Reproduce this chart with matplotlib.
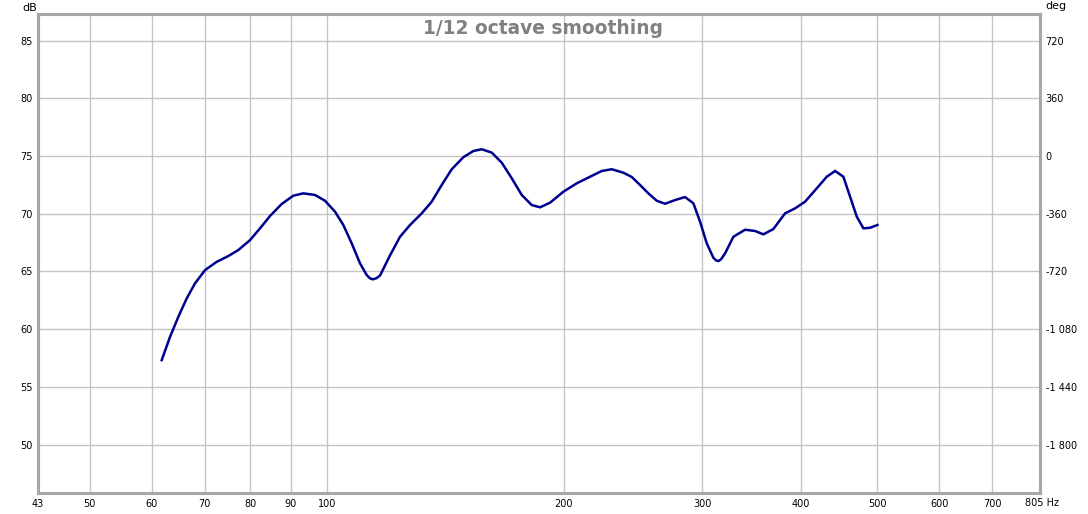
#!/usr/bin/env python3
"""
Smoothed SPL response, REW style chart
"""
import matplotlib
matplotlib.use("Agg")
import matplotlib.pyplot as plt
from matplotlib.ticker import FixedLocator, NullLocator

# Frequency response (Hz, dB)
freq = [61.74, 63.26, 64.81, 66.42, 68.05, 70.07, 72.51, 75.01, 77.24, 79.93,
        82.30, 84.74, 87.69, 90.71, 93.40, 96.66, 99.52, 102.48, 104.99, 107.60,
        110.25, 112.43, 113.5, 114.42, 115.6, 116.89, 120.36, 123.93, 127.61, 132.05,
        135.96, 140.0, 144.15, 149.12, 153.55, 157.37, 162.04, 166.84, 171.79, 176.89,
        182.14, 186.62, 192.15, 199.77, 207.76, 216.0, 223.52, 230.15, 238.09, 244.01,
        249.28, 256.15, 262.52, 268.97, 276.95, 285.17, 292.18, 297.96, 303.85, 309.77,
        312.3, 314.33, 316.8, 320.55, 328.43, 339.86, 349.94, 358.54, 369.18, 382.02,
        393.36, 405.03, 419.13, 431.57, 442.17, 453.04, 462.0, 471.14, 480.35, 489.86,
        500.43]
spl = [57.31, 59.33, 61.06, 62.66, 63.96, 65.11, 65.83, 66.33, 66.85, 67.71,
       68.73, 69.8, 70.84, 71.56, 71.76, 71.62, 71.12, 70.17, 69.02, 67.43,
       65.69, 64.68, 64.4, 64.31, 64.4, 64.64, 66.39, 68.0, 69.02, 70.03,
       71.04, 72.49, 73.85, 74.89, 75.43, 75.58, 75.29, 74.42, 73.07, 71.62,
       70.75, 70.55, 70.95, 71.9, 72.63, 73.2, 73.7, 73.85, 73.55, 73.18,
       72.57, 71.76, 71.12, 70.86, 71.18, 71.44, 70.9, 69.3, 67.43, 66.18,
       65.95, 65.89, 66.05, 66.56, 68.0, 68.61, 68.5, 68.21, 68.67, 70.03,
       70.46, 71.04, 72.2, 73.2, 73.7, 73.2, 71.47, 69.74, 68.73, 68.78,
       69.02]

x_ticks = [43, 50, 60, 70, 80, 90, 100, 200, 300, 400, 500, 600, 700, 805]
x_labels = ["43", "50", "60", "70", "80", "90", "100", "200", "300", "400",
            "500", "600", "700", ""]
db_ticks = [50, 55, 60, 65, 70, 75, 80, 85]
deg_labels = ["-1 800", "-1 440", "-1 080", "-720", "-360", "0", "360", "720"]

W, H = 1088, 514
L, R, T, B = 38, 1040, 14, 493

fig = plt.figure(figsize=(W / 100, H / 100), dpi=100)
ax = fig.add_axes([L / W, (H - B) / H, (R - L) / W, (B - T) / H])

ax.plot(freq, spl, color="#000090", lw=1.8, solid_joinstyle="round")

ax.set_xscale("log")
ax.set_xlim(43, 805)
ax.set_ylim(45.8, 87.3)
ax.xaxis.set_major_locator(FixedLocator(x_ticks))
ax.xaxis.set_minor_locator(NullLocator())
ax.set_xticklabels(x_labels)
ax.set_yticks(db_ticks)
ax.grid(True, color="#c4c4c4", lw=1)
ax.set_axisbelow(True)
ax.tick_params(length=0, labelsize=7, pad=4, colors="#000000")

# phase axis on the right
ax2 = ax.twinx()
ax2.set_ylim(ax.get_ylim())
ax2.set_yticks(db_ticks)
ax2.set_yticklabels(deg_labels)
ax2.tick_params(length=0, labelsize=7, pad=4)

for a in (ax, ax2):
    for s in a.spines.values():
        s.set_color("#a8a8a8")
        s.set_linewidth(2.2)

fig.text(22 / W, 1 - 8 / H, "dB", fontsize=8, va="center")
fig.text(1045 / W, 1 - 6 / H, "deg", fontsize=8, va="center")
fig.text(1025 / W, 1 - 503 / H, "805 Hz", fontsize=7, va="center")
fig.text(543 / W, 1 - 29 / H, "1/12 octave smoothing", fontsize=13.4,
         fontweight="bold", color="#808080", ha="center", va="center")

fig.savefig("out.png", dpi=100)
